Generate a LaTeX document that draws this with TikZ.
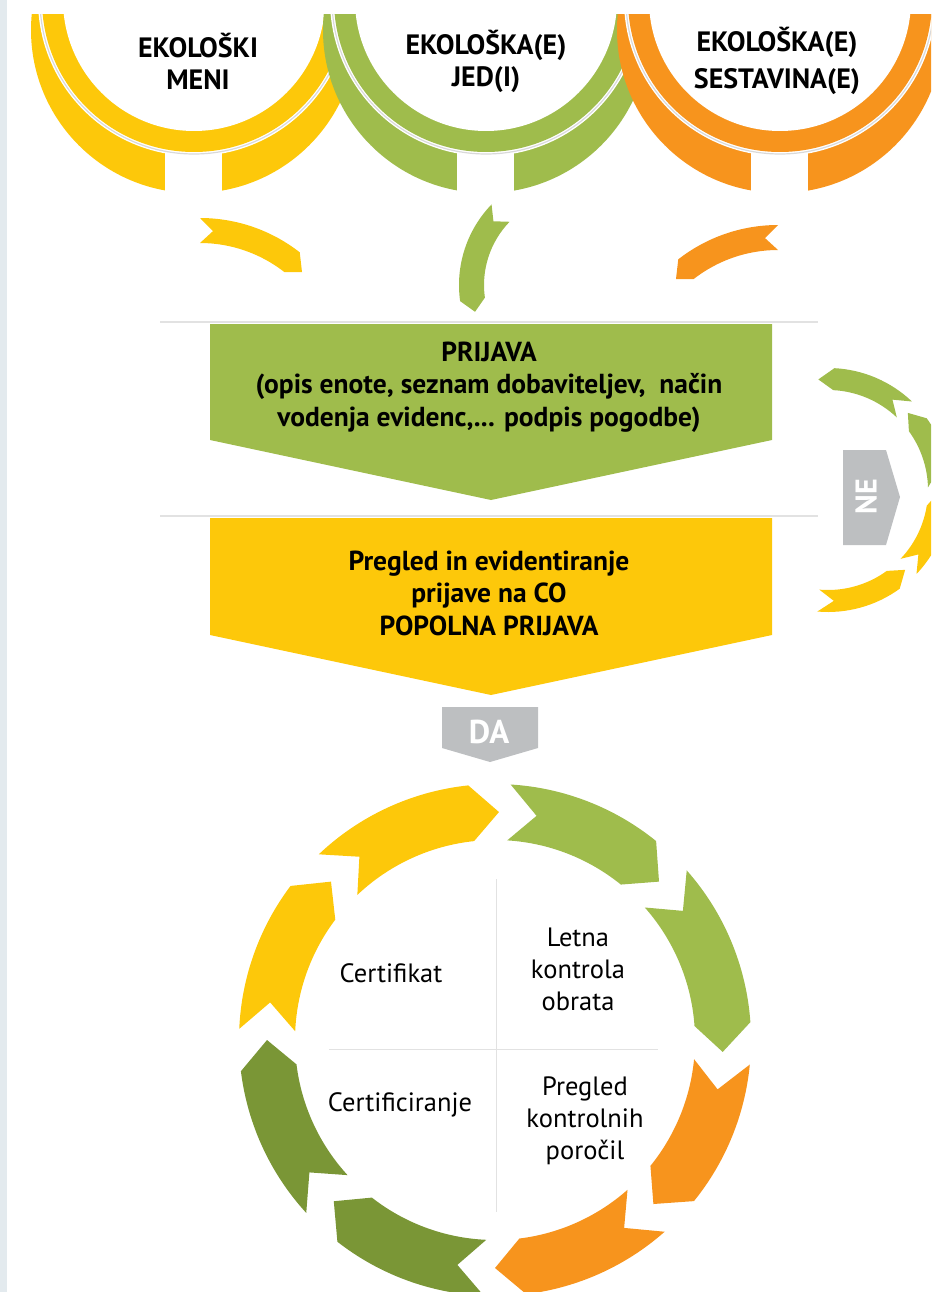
\documentclass[tikz,border=0pt]{standalone}
\usepackage{fontspec}
\setmainfont{PT Sans}
\definecolor{cyel}{HTML}{FDC80A}
\definecolor{cgrn}{HTML}{9FBC4C}
\definecolor{corg}{HTML}{F7941D}
\definecolor{cdgr}{HTML}{7A9636}
\definecolor{cgry}{HTML}{BDBFC1}
\definecolor{cline}{HTML}{E2E2E2}
\definecolor{cstrip}{HTML}{E3EAEE}
\newcommand\topU[2]{%
  \begin{scope}
    \clip (0,15) rectangle (931,300);
    \fill[#2] (#1,30) circle[radius=163];
    \fill[white] (#1,0) circle[radius=156];
    \fill[white] (#1-29,150) rectangle (#1+28,200);
    \fill[#2] (#1,0) circle[radius=152];
    \fill[white] (#1,0) circle[radius=131];
    \draw[gray!30, line width=1.2] (#1,0) +(0:154) arc[start angle=0,end angle=180,radius=154];
  \end{scope}}
\newcommand\arcseg[7]{%
  \pgfmathsetmacro\segrm{(#4+#5)/2}%
  \pgfmathsetmacro\segb{#3-#6}%
  \pgfmathsetmacro\sega{#2+#6}%
  \fill[#7,shift={#1}] (#2:#5) arc[start angle=#2,end angle=\segb,radius=#5] -- (#3:\segrm) -- (\segb:#4) arc[start angle=\segb,end angle=#2,radius=#4] -- (\sega:\segrm) -- cycle;}
\begin{document}
\begin{tikzpicture}[x=1pt,y=-1pt,
  toplbl/.style={align=center,font=\bfseries\fontsize{28}{32}\selectfont,inner sep=0},
  boxtxt/.style={align=center,font=\bfseries\fontsize{27.5}{32.5}\selectfont,inner sep=0},
  tagtxt/.style={text=white,font=\bfseries\fontsize{33}{36}\selectfont,inner sep=0},
  cyctxt/.style={align=center,font=\fontsize{26.5}{32}\selectfont,inner sep=0},
  sepline/.style={cline,line width=2}]
\useasboundingbox (0,0) rectangle (931,1292);
\clip (0,0) rectangle (931,1292);
\fill[cstrip] (0,0) rectangle (7,1292);
% top arcs
\topU{194}{cyel}
\topU{486}{cgrn}
\topU{780}{corg}
\node[toplbl] (lmeni) at (198,61) {EKOLOŠKI\\MENI};
\node[toplbl] (ljed) at (486,61) {EKOLOŠKA(E)\\JED(I)};
\node[toplbl,font=\bfseries\fontsize{28}{37}\selectfont] (lses) at (777,61) {EKOLOŠKA(E)\\SESTAVINA(E)};
% small arrows
\fill[cyel,shift={(200,380)}] (-90:162) arc[start angle=-90,end angle=-52,radius=162] -- (102,-108) -- (-52:137) arc[start angle=-52,end angle=-90,radius=137] -- (-85:149.5) -- cycle;
\fill[corg,shift={(778,387)}] (-90:162) arc[start angle=-90,end angle=-128,radius=162] -- (-102,-108) -- (-128:137) arc[start angle=-128,end angle=-90,radius=137] -- (-95:149.5) -- cycle;
\fill[cgrn,shift={(575,285)}] (224:116) arc[start angle=224,end angle=172,radius=116] -- (165:103.5) -- (172:91) arc[start angle=172,end angle=224,radius=91] -- (218:103.5) -- cycle;
% boxes
\draw[sepline] (160,322) -- (818,322);
\fill[cgrn] (210,324) -- (772,324) -- (772,440) -- (491,500) -- (210,440) -- cycle;
\node[boxtxt] (prijava) at (489,387) {PRIJAVA\\(opis enote, seznam dobaviteljev,\ \ način\\vodenja evidenc,... podpis pogodbe)};
\draw[sepline] (160,516) -- (818,516);
\fill[cyel] (210,518) -- (772,518) -- (772,635) -- (491,695) -- (210,635) -- cycle;
\node[boxtxt] (pregled) at (489,593) {Pregled in evidentiranje\\prijave na CO\\POPOLNA PRIJAVA};
% DA tag
\fill[cgry] (442,707) -- (538,707) -- (538,748) -- (490,762) -- (442,748) -- cycle;
\node[tagtxt] (da) at (489,732) {DA};
% NE loop
\arcseg{(828,490)}{95}{46}{100}{122}{-8}{cyel}
\arcseg{(828,490)}{43.5}{1}{100}{122}{-8}{cyel}
\arcseg{(828,490)}{-1.5}{-44}{100}{122}{-8}{cgrn}
\arcseg{(828,490)}{-46.5}{-95}{100}{122}{-8}{cgrn}
\fill[cgry] (843,450) -- (886,450) -- (900,497) -- (886,545) -- (843,545) -- cycle;
\node[tagtxt,rotate=90,font=\bfseries\fontsize{30}{34}\selectfont] (ne) at (866,497) {NE};
% cycle
\arcseg{(495,1040)}{-86.5}{-44}{200}{256}{7}{cgrn}
\arcseg{(495,1040)}{-41.5}{3}{200}{256}{7}{cgrn}
\arcseg{(495,1040)}{5.5}{46}{200}{256}{7}{corg}
\arcseg{(495,1040)}{48.5}{90}{200}{256}{7}{corg}
\arcseg{(495,1040)}{92.5}{135}{200}{256}{7}{cdgr}
\arcseg{(495,1040)}{137.5}{180}{200}{256}{7}{cdgr}
\arcseg{(495,1040)}{182.5}{224}{200}{256}{7}{cyel}
\arcseg{(495,1040)}{226.5}{271}{200}{256}{7}{cyel}
\draw[cline,line width=1] (496,879) -- (496,1212);
\draw[cline,line width=1] (329,1049) -- (658,1049);
\node[cyctxt] (cert) at (391,973) {Certifikat};
\node[cyctxt] (letna) at (578,969) {Letna\\kontrola\\obrata};
\node[cyctxt] (certif) at (400,1105) {Certificiranje};
\node[cyctxt] (porocil) at (585,1121) {Pregled\\kontrolnih\\poročil};
\end{tikzpicture}
\end{document}
